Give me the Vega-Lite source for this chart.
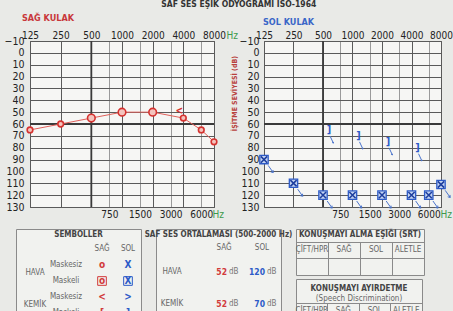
{
  "$schema": "https://vega.github.io/schema/vega-lite/v6.json",
  "background": "#e9eae7",
  "padding": {"left": 3, "top": 0, "right": 0, "bottom": 0},
  "title": {"text": "SAF SES EŞİK ODYOGRAMI ISO-1964", "fontSize": 8.5, "fontWeight": "bold", "color": "#333333", "anchor": "middle", "offset": 5, "dx": 4},
  "config": {
    "font": "Liberation Sans Narrow, DejaVu Sans Condensed, Liberation Sans, sans-serif",
    "view": {"stroke": "#555555"}
  },
  "datasets": {
    "sag_hava": [
      {"frekans": 125, "db": 65, "maskeli": "hayır"},
      {"frekans": 250, "db": 60, "maskeli": "hayır"},
      {"frekans": 500, "db": 55, "maskeli": "evet"},
      {"frekans": 1000, "db": 50, "maskeli": "evet"},
      {"frekans": 2000, "db": 50, "maskeli": "evet"},
      {"frekans": 4000, "db": 55, "maskeli": "hayır"},
      {"frekans": 6000, "db": 65, "maskeli": "hayır"},
      {"frekans": 8000, "db": 75, "maskeli": "hayır"}
    ],
    "sag_kemik": [{"frekans": 4000, "db": 49}],
    "sol_hava": [
      {"frekans": 125, "db": 90},
      {"frekans": 250, "db": 110},
      {"frekans": 500, "db": 120},
      {"frekans": 1000, "db": 120},
      {"frekans": 2000, "db": 120},
      {"frekans": 4000, "db": 120},
      {"frekans": 6000, "db": 120},
      {"frekans": 8000, "db": 111}
    ],
    "sol_kemik": [
      {"frekans": 500, "db": 65},
      {"frekans": 1000, "db": 70},
      {"frekans": 2000, "db": 75},
      {"frekans": 4000, "db": 80}
    ],
    "semboller": [
      {"satir": "sütun", "sutun": "SAĞ", "metin": "SAĞ", "taraf": "yok", "tur": "hücre"},
      {"satir": "sütun", "sutun": "SOL", "metin": "SOL", "taraf": "yok", "tur": "hücre"},
      {"satir": "HAVA Maskesiz", "sutun": "SAĞ", "metin": "o", "taraf": "SAĞ", "tur": "sembol", "kutu": "hayır"},
      {"satir": "HAVA Maskeli", "sutun": "SAĞ", "metin": "o", "taraf": "SAĞ", "tur": "sembol", "kutu": "evet"},
      {"satir": "HAVA Maskesiz", "sutun": "SOL", "metin": "X", "taraf": "SOL", "tur": "sembol", "kutu": "hayır"},
      {"satir": "HAVA Maskeli", "sutun": "SOL", "metin": "X", "taraf": "SOL", "tur": "sembol", "kutu": "evet"},
      {"satir": "KEMİK Maskesiz", "sutun": "SAĞ", "metin": "<", "taraf": "SAĞ", "tur": "sembol", "kutu": "hayır"},
      {"satir": "KEMİK Maskeli", "sutun": "SAĞ", "metin": "[", "taraf": "SAĞ", "tur": "sembol", "kutu": "hayır"},
      {"satir": "KEMİK Maskesiz", "sutun": "SOL", "metin": ">", "taraf": "SOL", "tur": "sembol", "kutu": "hayır"},
      {"satir": "KEMİK Maskeli", "sutun": "SOL", "metin": "]", "taraf": "SOL", "tur": "sembol", "kutu": "hayır"},
      {"satir": "HAVA Maskesiz", "metin": "HAVA", "tur": "etiket"},
      {"satir": "KEMİK Maskesiz", "metin": "KEMİK", "tur": "etiket"},
      {"satir": "HAVA Maskesiz", "metin": "Maskesiz", "tur": "alt"},
      {"satir": "HAVA Maskeli", "metin": "Maskeli", "tur": "alt"},
      {"satir": "KEMİK Maskesiz", "metin": "Maskesiz", "tur": "alt"},
      {"satir": "KEMİK Maskeli", "metin": "Maskeli", "tur": "alt"}
    ],
    "ortalama": [
      {"satir": "sütun", "sutun": "SAĞ", "metin": "SAĞ", "tur": "hücre"},
      {"satir": "sütun", "sutun": "SOL", "metin": "SOL", "tur": "hücre"},
      {"satir": "HAVA", "sutun": "SAĞ", "deger": 52, "taraf": "SAĞ", "tur": "değer"},
      {"satir": "HAVA", "sutun": "SOL", "deger": 120, "taraf": "SOL", "tur": "değer"},
      {"satir": "KEMİK", "sutun": "SAĞ", "deger": 52, "taraf": "SAĞ", "tur": "değer"},
      {"satir": "KEMİK", "sutun": "SOL", "deger": 70, "taraf": "SOL", "tur": "değer"},
      {"satir": "HAVA", "metin": "HAVA", "tur": "etiket"},
      {"satir": "KEMİK", "metin": "KEMİK", "tur": "etiket"}
    ],
    "sutunlar": [
      {"satir": "sütun", "sutun": "ÇİFT/HPR", "metin": "ÇİFT/HPR"},
      {"satir": "sütun", "sutun": "SAĞ", "metin": "SAĞ"},
      {"satir": "sütun", "sutun": "SOL", "metin": "SOL"},
      {"satir": "sütun", "sutun": "ALETLE", "metin": "ALETLE"}
    ]
  },
  "spacing": 8,
  "vconcat": [
    {
      "bounds": "flush",
      "spacing": 13,
      "hconcat": [
        {"width": 1, "height": 1, "view": {"stroke": null, "fill": null}, "data": {"values": []}, "mark": "point"},
        {
          "bounds": "flush",
          "spacing": 50,
          "hconcat": [
            {
              "width": 184, "height": 166,
              "title": {"text": "SAĞ KULAK", "anchor": "start", "frame": "group", "dx": -8, "offset": 7, "color": "#c8373a", "fontSize": 9, "fontWeight": "bold"},
              "view": {"fill": "#f6f6f4", "stroke": "#4a4a4a"},
              "resolve": {"axis": {"x": "independent", "y": "independent"}},
              "layer": [
                {
                  "data": {"values": [{}]},
                  "mark": {"type": "rule", "color": "#3a3a3a", "strokeWidth": 1.8},
                  "encoding": {"y": {"datum": 60, "type": "quantitative", "scale": {"domain": [-10, 130], "reverse": true, "nice": false, "zero": false}, "axis": null}}
                },
                {
                  "data": {"values": [{}]},
                  "mark": {"type": "rule", "color": "#3a3a3a", "strokeWidth": 1.8},
                  "encoding": {"x": {"datum": 500, "type": "quantitative", "scale": {"type": "log", "base": 2, "domain": [125, 8000], "nice": false}, "axis": null}}
                },
                {
                  "data": {"name": "sag_hava"},
                  "mark": {"type": "line", "color": "#e0605a", "strokeWidth": 1},
                  "encoding": {
                    "x": {"field": "frekans", "type": "quantitative", "scale": {"type": "log", "base": 2, "domain": [125, 8000], "nice": false},
                      "axis": {"orient": "top", "values": [125, 250, 500, 1000, 2000, 4000, 8000], "format": "d", "grid": true, "gridColor": "#5a5a5a", "ticks": false, "tickSize": 0, "domain": false, "labelFontSize": 10, "labelColor": "#222222", "labelPadding": 1, "labelFlush": false, "labelOverlap": false, "labelBound": false, "title": "Hz", "titleColor": "#3c9a4c", "titleFontSize": 10, "titleFontWeight": "normal", "titleAngle": 0, "titleX": 196, "titleY": -1, "titleAlign": "left", "titleBaseline": "bottom"}},
                    "y": {"field": "db", "type": "quantitative", "scale": {"domain": [-10, 130], "reverse": true, "nice": false, "zero": false},
                      "axis": {"values": [-10, 0, 10, 20, 30, 40, 50, 60, 70, 80, 90, 100, 110, 120, 130], "grid": true, "gridColor": "#5a5a5a", "ticks": false, "tickSize": 0, "domain": false, "labelFontSize": 10.5, "labelColor": "#222222", "labelPadding": 6, "labelFlush": false, "labelOverlap": false, "labelBound": false, "minExtent": 0, "title": null}}
                  }
                },
                {
                  "data": {"name": "sag_hava"},
                  "mark": {"type": "point", "shape": "circle", "filled": true, "fill": "#f3c4bd", "stroke": "#d5322f", "strokeWidth": 1.6, "opacity": 1},
                  "encoding": {
                    "x": {"field": "frekans", "type": "quantitative", "scale": {"type": "log", "base": 2, "domain": [125, 8000], "nice": false},
                      "axis": {"orient": "bottom", "values": [750, 1500, 3000, 6000], "format": "d", "grid": true, "gridColor": "#9a9a9a", "ticks": false, "tickSize": 0, "domain": false, "labelFontSize": 10, "labelColor": "#222222", "labelPadding": 2, "labelFlush": false, "labelOverlap": false, "title": "Hz", "titleColor": "#3c9a4c", "titleFontSize": 10, "titleFontWeight": "normal", "titleAngle": 0, "titleX": 182, "titleY": 2, "titleAlign": "left", "titleBaseline": "top"}},
                    "y": {"field": "db", "type": "quantitative", "scale": {"domain": [-10, 130], "reverse": true, "nice": false, "zero": false}, "axis": null},
                    "size": {"field": "maskeli", "type": "nominal", "scale": {"domain": ["hayır", "evet"], "range": [32, 58]}, "legend": null}
                  }
                },
                {
                  "data": {"name": "sag_kemik"},
                  "mark": {"type": "text", "text": "<", "color": "#d5322f", "fontSize": 10, "fontWeight": "bold", "dx": -4},
                  "encoding": {
                    "x": {"field": "frekans", "type": "quantitative", "scale": {"type": "log", "base": 2, "domain": [125, 8000], "nice": false}, "axis": null},
                    "y": {"field": "db", "type": "quantitative", "scale": {"domain": [-10, 130], "reverse": true, "nice": false, "zero": false}, "axis": null}
                  }
                }
              ]
            },
            {
              "width": 177, "height": 166,
              "title": {"text": "SOL KULAK", "anchor": "start", "frame": "group", "dx": -1, "offset": 3, "color": "#3a66c8", "fontSize": 9, "fontWeight": "bold"},
              "view": {"fill": "#f6f6f4", "stroke": "#4a4a4a"},
              "resolve": {"axis": {"x": "independent", "y": "independent"}},
              "layer": [
                {
                  "data": {"values": [{}]},
                  "mark": {"type": "rule", "color": "#3a3a3a", "strokeWidth": 1.8},
                  "encoding": {"y": {"datum": 60, "type": "quantitative", "scale": {"domain": [-10, 130], "reverse": true, "nice": false, "zero": false}, "axis": null}}
                },
                {
                  "data": {"values": [{}]},
                  "mark": {"type": "rule", "color": "#3a3a3a", "strokeWidth": 1.8},
                  "encoding": {"x": {"datum": 500, "type": "quantitative", "scale": {"type": "log", "base": 2, "domain": [125, 8000], "nice": false}, "axis": null}}
                },
                {
                  "data": {"name": "sol_hava"},
                  "mark": {"type": "point", "shape": "square", "filled": true, "fill": "#c4d4f2", "stroke": "#2d5bc8", "strokeWidth": 1.3, "size": 70, "opacity": 1},
                  "encoding": {
                    "x": {"field": "frekans", "type": "quantitative", "scale": {"type": "log", "base": 2, "domain": [125, 8000], "nice": false},
                      "axis": {"orient": "top", "values": [125, 250, 500, 1000, 2000, 4000, 8000], "format": "d", "grid": true, "gridColor": "#5a5a5a", "ticks": false, "tickSize": 0, "domain": false, "labelFontSize": 10, "labelColor": "#222222", "labelPadding": 1, "labelFlush": false, "labelOverlap": false, "labelBound": false, "title": "Hz", "titleColor": "#3c9a4c", "titleFontSize": 10, "titleFontWeight": "normal", "titleAngle": 0, "titleX": 190, "titleY": -1, "titleAlign": "left", "titleBaseline": "bottom"}},
                    "y": {"field": "db", "type": "quantitative", "scale": {"domain": [-10, 130], "reverse": true, "nice": false, "zero": false},
                      "axis": {"values": [-10, 0, 10, 20, 30, 40, 50, 60, 70, 80, 90, 100, 110, 120, 130], "grid": true, "gridColor": "#5a5a5a", "ticks": false, "tickSize": 0, "domain": false, "labelFontSize": 10.5, "labelColor": "#222222", "labelPadding": 5, "labelFlush": false, "labelOverlap": false, "labelBound": false, "title": "İŞİTME SEVİYESİ (dB)", "titleColor": "#b8413c", "titleFontSize": 7, "titleFontWeight": "bold", "titleX": -30, "titleY": 52, "titleAlign": "center", "titleBaseline": "middle"}}
                  }
                },
                {
                  "data": {"name": "sol_hava"},
                  "mark": {"type": "point", "shape": "M-0.75,-0.75L0.75,0.75M-0.75,0.75L0.75,-0.75", "filled": false, "stroke": "#1e3f9e", "strokeWidth": 1.6, "size": 70, "opacity": 1},
                  "encoding": {
                    "x": {"field": "frekans", "type": "quantitative", "scale": {"type": "log", "base": 2, "domain": [125, 8000], "nice": false},
                      "axis": {"orient": "bottom", "values": [750, 1500, 3000, 6000], "format": "d", "grid": true, "gridColor": "#9a9a9a", "ticks": false, "tickSize": 0, "domain": false, "labelFontSize": 10, "labelColor": "#222222", "labelPadding": 2, "labelFlush": false, "labelOverlap": false, "title": "Hz", "titleColor": "#3c9a4c", "titleFontSize": 10, "titleFontWeight": "normal", "titleAngle": 0, "titleX": 176, "titleY": 2, "titleAlign": "left", "titleBaseline": "top"}},
                    "y": {"field": "db", "type": "quantitative", "scale": {"domain": [-10, 130], "reverse": true, "nice": false, "zero": false}, "axis": null}
                  }
                },
                {
                  "data": {"name": "sol_hava"},
                  "mark": {"type": "point", "shape": "M1,1.4L2.2,3.1M2.2,3.1L1.6,2.95M2.2,3.1L2.15,2.5", "filled": false, "stroke": "#4a74cc", "strokeWidth": 1, "size": 70, "opacity": 1},
                  "encoding": {
                    "x": {"field": "frekans", "type": "quantitative", "scale": {"type": "log", "base": 2, "domain": [125, 8000], "nice": false}, "axis": null},
                    "y": {"field": "db", "type": "quantitative", "scale": {"domain": [-10, 130], "reverse": true, "nice": false, "zero": false}, "axis": null}
                  }
                },
                {
                  "data": {"name": "sol_kemik"},
                  "mark": {"type": "text", "text": "]", "color": "#2d5bc8", "fontSize": 11, "fontWeight": "bold", "dx": 6},
                  "encoding": {
                    "x": {"field": "frekans", "type": "quantitative", "scale": {"type": "log", "base": 2, "domain": [125, 8000], "nice": false}, "axis": null},
                    "y": {"field": "db", "type": "quantitative", "scale": {"domain": [-10, 130], "reverse": true, "nice": false, "zero": false}, "axis": null}
                  }
                },
                {
                  "data": {"name": "sol_kemik"},
                  "mark": {"type": "point", "shape": "M3.5,3L5.2,6.6M5.2,6.6L4.6,6.3M5.2,6.6L5.2,6", "filled": false, "stroke": "#4a74cc", "strokeWidth": 1, "size": 16, "opacity": 1},
                  "encoding": {
                    "x": {"field": "frekans", "type": "quantitative", "scale": {"type": "log", "base": 2, "domain": [125, 8000], "nice": false}, "axis": null},
                    "y": {"field": "db", "type": "quantitative", "scale": {"domain": [-10, 130], "reverse": true, "nice": false, "zero": false}, "axis": null}
                  }
                }
              ]
            }
          ]
        }
      ]
    },
    {
      "bounds": "flush",
      "spacing": 15,
      "hconcat": [
        {
          "width": 125, "height": 92,
          "title": {"text": "SEMBOLLER", "offset": -10, "fontSize": 8, "fontWeight": "bold", "color": "#444444", "anchor": "middle"},
          "view": {"stroke": "#8a8a8a", "fill": "#f1f2ef"},
          "data": {"name": "semboller"},
          "layer": [
            {
              "transform": [{"filter": "datum.tur == 'hücre'"}],
              "mark": {"type": "text", "fontSize": 8, "color": "#666666"},
              "encoding": {
                "x": {"field": "sutun", "type": "nominal", "scale": {"type": "band", "domain": ["etiket", "SAĞ", "SOL"], "paddingInner": 0, "paddingOuter": 0.904, "align": 1},
                  "axis": {"orient": "top", "labels": false, "ticks": false, "domain": false, "grid": true, "bandPosition": 0, "values": ["SAĞ", "SOL"], "gridColor": "#8a8a8a", "gridDash": [0, 12, 1000, 0], "minExtent": 0, "title": null}},
                "y": {"field": "satir", "type": "nominal", "scale": {"type": "band", "domain": ["sütun", "HAVA Maskesiz", "HAVA Maskeli", "KEMİK Maskesiz", "KEMİK Maskeli"], "paddingInner": 0, "paddingOuter": 0.375, "align": 1},
                  "axis": {"labels": false, "ticks": false, "domain": false, "grid": true, "bandPosition": 0, "values": ["sütun", "HAVA Maskesiz", "KEMİK Maskesiz"], "gridColor": "#8a8a8a", "minExtent": 0, "title": null}},
                "text": {"field": "metin"}
              }
            },
            {
              "transform": [{"filter": "datum.tur == 'sembol' && datum.kutu == 'evet'"}],
              "mark": {"type": "point", "shape": "square", "size": 75, "filled": false, "strokeWidth": 1, "opacity": 1},
              "encoding": {
                "x": {"field": "sutun", "type": "nominal", "scale": {"type": "band", "domain": ["etiket", "SAĞ", "SOL"], "paddingInner": 0, "paddingOuter": 0.904, "align": 1}, "axis": null},
                "y": {"field": "satir", "type": "nominal", "scale": {"type": "band", "domain": ["sütun", "HAVA Maskesiz", "HAVA Maskeli", "KEMİK Maskesiz", "KEMİK Maskeli"], "paddingInner": 0, "paddingOuter": 0.375, "align": 1}, "axis": null},
                "color": {"field": "taraf", "type": "nominal", "scale": {"domain": ["SAĞ", "SOL", "yok"], "range": ["#d23b3b", "#2d5bc8", "#666666"]}, "legend": null}
              }
            },
            {
              "transform": [{"filter": "datum.tur == 'sembol'"}],
              "mark": {"type": "text", "fontSize": 10, "fontWeight": "bold", "baseline": "middle"},
              "encoding": {
                "x": {"field": "sutun", "type": "nominal", "scale": {"type": "band", "domain": ["etiket", "SAĞ", "SOL"], "paddingInner": 0, "paddingOuter": 0.904, "align": 1}, "axis": null},
                "y": {"field": "satir", "type": "nominal", "scale": {"type": "band", "domain": ["sütun", "HAVA Maskesiz", "HAVA Maskeli", "KEMİK Maskesiz", "KEMİK Maskeli"], "paddingInner": 0, "paddingOuter": 0.375, "align": 1}, "axis": null},
                "text": {"field": "metin"},
                "color": {"field": "taraf", "type": "nominal", "scale": {"domain": ["SAĞ", "SOL", "yok"], "range": ["#d23b3b", "#2d5bc8", "#666666"]}, "legend": null}
              }
            },
            {
              "transform": [{"filter": "datum.tur == 'etiket'"}],
              "mark": {"type": "text", "fontSize": 8, "color": "#666666", "dx": -54, "baseline": "middle"},
              "encoding": {
                "x": {"datum": "SAĞ", "type": "nominal", "bandPosition": 0, "scale": {"type": "band", "domain": ["etiket", "SAĞ", "SOL"], "paddingInner": 0, "paddingOuter": 0.904, "align": 1}, "axis": null},
                "y": {"field": "satir", "type": "nominal", "bandPosition": 1, "scale": {"type": "band", "domain": ["sütun", "HAVA Maskesiz", "HAVA Maskeli", "KEMİK Maskesiz", "KEMİK Maskeli"], "paddingInner": 0, "paddingOuter": 0.375, "align": 1}, "axis": null},
                "text": {"field": "metin"}
              }
            },
            {
              "transform": [{"filter": "datum.tur == 'alt'"}],
              "mark": {"type": "text", "fontSize": 8, "color": "#666666", "dx": -23, "baseline": "middle"},
              "encoding": {
                "x": {"datum": "SAĞ", "type": "nominal", "bandPosition": 0, "scale": {"type": "band", "domain": ["etiket", "SAĞ", "SOL"], "paddingInner": 0, "paddingOuter": 0.904, "align": 1}, "axis": null},
                "y": {"field": "satir", "type": "nominal", "scale": {"type": "band", "domain": ["sütun", "HAVA Maskesiz", "HAVA Maskeli", "KEMİK Maskesiz", "KEMİK Maskeli"], "paddingInner": 0, "paddingOuter": 0.375, "align": 1}, "axis": null},
                "text": {"field": "metin"}
              }
            }
          ]
        },
        {
          "width": 125, "height": 91,
          "title": {"text": "SAF SES ORTALAMASI (500-2000 Hz)", "offset": -10, "fontSize": 8, "fontWeight": "bold", "color": "#444444", "anchor": "middle"},
          "view": {"stroke": "#8a8a8a", "fill": "#f1f2ef"},
          "data": {"name": "ortalama"},
          "layer": [
            {
              "transform": [{"filter": "datum.tur == 'hücre'"}],
              "mark": {"type": "text", "fontSize": 8, "color": "#666666"},
              "encoding": {
                "x": {"field": "sutun", "type": "nominal", "scale": {"type": "band", "domain": ["SAĞ", "SOL"], "paddingInner": 0, "paddingOuter": 0.6447, "align": 1},
                  "axis": {"orient": "top", "labels": false, "ticks": false, "domain": false, "grid": true, "bandPosition": 0, "values": ["SAĞ", "SOL"], "gridColor": "#8a8a8a", "gridDash": [0, 11, 1000, 0], "title": null}},
                "y": {"field": "satir", "type": "nominal", "scale": {"type": "band", "domain": ["sütun", "HAVA", "HAVA alt", "KEMİK", "KEMİK alt"], "paddingInner": 0, "paddingOuter": 0.34375, "align": 1},
                  "axis": {"labels": false, "ticks": false, "domain": false, "grid": true, "bandPosition": 0, "values": ["sütun", "HAVA", "KEMİK"], "gridColor": "#8a8a8a", "minExtent": 0, "title": null}},
                "text": {"field": "metin"}
              }
            },
            {
              "transform": [{"filter": "datum.tur == 'değer'"}],
              "mark": {"type": "text", "fontSize": 8.5, "fontWeight": "bold", "align": "right", "dx": 3, "baseline": "middle"},
              "encoding": {
                "x": {"field": "sutun", "type": "nominal", "scale": {"type": "band", "domain": ["SAĞ", "SOL"], "paddingInner": 0, "paddingOuter": 0.6447, "align": 1}, "axis": null},
                "y": {"field": "satir", "type": "nominal", "bandPosition": 1, "scale": {"type": "band", "domain": ["sütun", "HAVA", "HAVA alt", "KEMİK", "KEMİK alt"], "paddingInner": 0, "paddingOuter": 0.34375, "align": 1}, "axis": null},
                "text": {"field": "deger", "type": "quantitative", "format": "d"},
                "color": {"field": "taraf", "type": "nominal", "scale": {"domain": ["SAĞ", "SOL"], "range": ["#d23b3b", "#2d5bc8"]}, "legend": null}
              }
            },
            {
              "transform": [{"filter": "datum.tur == 'değer'"}],
              "mark": {"type": "text", "text": "dB", "fontSize": 8, "color": "#777777", "align": "left", "dx": 5, "baseline": "middle"},
              "encoding": {
                "x": {"field": "sutun", "type": "nominal", "scale": {"type": "band", "domain": ["SAĞ", "SOL"], "paddingInner": 0, "paddingOuter": 0.6447, "align": 1}, "axis": null},
                "y": {"field": "satir", "type": "nominal", "bandPosition": 1, "scale": {"type": "band", "domain": ["sütun", "HAVA", "HAVA alt", "KEMİK", "KEMİK alt"], "paddingInner": 0, "paddingOuter": 0.34375, "align": 1}, "axis": null}
              }
            },
            {
              "transform": [{"filter": "datum.tur == 'etiket'"}],
              "mark": {"type": "text", "fontSize": 8, "color": "#666666", "dx": -33, "baseline": "middle"},
              "encoding": {
                "x": {"datum": "SAĞ", "type": "nominal", "bandPosition": 0, "scale": {"type": "band", "domain": ["SAĞ", "SOL"], "paddingInner": 0, "paddingOuter": 0.6447, "align": 1}, "axis": null},
                "y": {"field": "satir", "type": "nominal", "bandPosition": 1, "scale": {"type": "band", "domain": ["sütun", "HAVA", "HAVA alt", "KEMİK", "KEMİK alt"], "paddingInner": 0, "paddingOuter": 0.34375, "align": 1}, "axis": null},
                "text": {"field": "metin"}
              }
            }
          ]
        },
        {
          "bounds": "flush",
          "spacing": 4,
          "vconcat": [
            {
              "width": 128, "height": 46,
              "title": {"text": "KONUŞMAYI ALMA EŞİĞİ (SRT)", "offset": -10, "fontSize": 8, "fontWeight": "bold", "color": "#444444", "anchor": "middle"},
              "view": {"stroke": "#8a8a8a", "fill": "#f1f2ef"},
              "data": {"name": "sutunlar"},
              "mark": {"type": "text", "fontSize": 8, "color": "#666666"},
              "encoding": {
                "x": {"field": "sutun", "type": "nominal", "scale": {"type": "band", "domain": ["ÇİFT/HPR", "SAĞ", "SOL", "ALETLE"], "paddingInner": 0, "paddingOuter": 0},
                  "axis": {"orient": "top", "labels": false, "ticks": false, "domain": false, "grid": true, "bandPosition": 0, "values": ["SAĞ", "SOL", "ALETLE"], "gridColor": "#8a8a8a", "gridDash": [0, 13, 1000, 0], "title": null}},
                "y": {"field": "satir", "type": "nominal", "scale": {"type": "band", "domain": ["sütun", "değer"], "paddingInner": 0, "paddingOuter": 0.394, "align": 1},
                  "axis": {"labels": false, "ticks": false, "domain": false, "grid": true, "bandPosition": 0, "values": ["sütun", "değer"], "gridColor": "#8a8a8a", "minExtent": 0, "title": null}},
                "text": {"field": "metin"}
              }
            },
            {
              "width": 126, "height": 40,
              "title": {"text": "KONUŞMAYI AYIRDETME", "subtitle": "(Speech Discrimination)", "offset": -24, "fontSize": 8, "fontWeight": "bold", "color": "#444444", "subtitleFontSize": 8, "subtitleColor": "#666666", "subtitlePadding": 2, "anchor": "middle"},
              "view": {"stroke": "#8a8a8a", "fill": "#f1f2ef"},
              "data": {"name": "sutunlar"},
              "mark": {"type": "text", "fontSize": 8, "color": "#666666"},
              "encoding": {
                "x": {"field": "sutun", "type": "nominal", "scale": {"type": "band", "domain": ["ÇİFT/HPR", "SAĞ", "SOL", "ALETLE"], "paddingInner": 0, "paddingOuter": 0},
                  "axis": {"orient": "top", "labels": false, "ticks": false, "domain": false, "grid": true, "bandPosition": 0, "values": ["SAĞ", "SOL", "ALETLE"], "gridColor": "#8a8a8a", "gridDash": [0, 24, 1000, 0], "title": null}},
                "y": {"field": "satir", "type": "nominal", "scale": {"type": "band", "domain": ["sütun"], "paddingInner": 0, "paddingOuter": 0.75, "align": 1},
                  "axis": {"labels": false, "ticks": false, "domain": false, "grid": true, "bandPosition": 0, "values": ["sütun"], "gridColor": "#8a8a8a", "minExtent": 0, "title": null}},
                "text": {"field": "metin"}
              }
            }
          ]
        }
      ]
    }
  ]
}
